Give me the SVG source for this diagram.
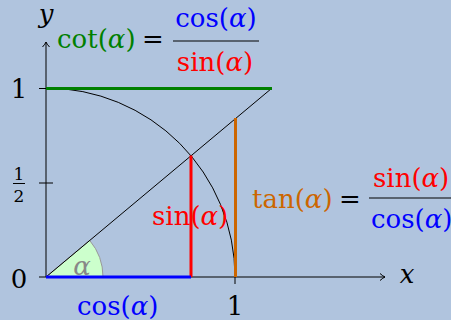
<svg xmlns="http://www.w3.org/2000/svg" width="451" height="320" viewBox="0 0 451 320">
<style>
text{font-family:"DejaVu Serif","Liberation Serif",serif;font-size:26px}
.i{font-style:italic}
.ax{stroke:#000;stroke-width:1;fill:none}
.g{fill:#008000}.b{fill:#0000ff}.r{fill:#ff0000}.o{fill:#cc6600}.k{fill:#000}
</style>
<defs>
<marker id="to" markerWidth="10" markerHeight="10" refX="7" refY="5" orient="auto" markerUnits="userSpaceOnUse">
<path d="M2,1.5 Q5,4.2 7,5 Q5,5.8 2,8.5" fill="none" stroke="#000" stroke-width="1"/>
</marker>
</defs>
<rect width="451" height="320" fill="#b0c4de"/>
<g id="wedge">
<path d="M46,277 L103,277 A57,57 0 0 0 89.7,240.4 Z" fill="#ccffcc" stroke="#999" stroke-width="1"/>
<text x="82" y="275" class="i" text-anchor="middle" fill="#888">α</text>
</g>
<g id="connectors">
<line class="ax" x1="46" y1="277" x2="385" y2="277" marker-end="url(#to)"/>
<line class="ax" x1="46" y1="277" x2="46" y2="42" marker-end="url(#to)"/>
<line class="ax" x1="39" y1="277" x2="46" y2="277"/>
<line class="ax" x1="39" y1="183" x2="53" y2="183"/>
<line class="ax" x1="39" y1="88.5" x2="46" y2="88.5"/>
<line class="ax" x1="235" y1="277" x2="235" y2="284"/>
<path class="ax" d="M46,88 A189,189 0 0 1 235,277"/>
<line class="ax" x1="46" y1="277" x2="271.5" y2="88.5"/>
</g>
<g id="sin-line"><line x1="191" y1="277" x2="191" y2="155.5" stroke="#ff0000" stroke-width="3"/></g>
<g id="cos-line"><line x1="46" y1="277" x2="191" y2="277" stroke="#0000ff" stroke-width="3"/></g>
<g id="tan-line"><line x1="235.5" y1="277" x2="235.5" y2="118" stroke="#cc6600" stroke-width="3"/></g>
<g id="cot-line"><line x1="46" y1="88.5" x2="272" y2="88.5" stroke="#008000" stroke-width="3"/></g>
<g id="axis-labels">
<text x="46" y="23" class="i k" text-anchor="middle">y</text>
<text x="407" y="283" class="i k" text-anchor="middle">x</text>
<text x="19" y="98" class="k" text-anchor="middle">1</text>
<text x="19" y="288" class="k" text-anchor="middle">0</text>
<text x="235" y="315" class="k" text-anchor="middle">1</text>
<text x="19" y="180" class="k" text-anchor="middle" style="font-size:17px">1</text>
<line x1="13" y1="183.5" x2="25" y2="183.5" stroke="#000" stroke-width="1"/>
<text x="19" y="202" class="k" text-anchor="middle" style="font-size:17px">2</text>
</g>
<g id="cos-label"><text x="77" y="315" class="b">cos(<tspan class="i">α</tspan>)</text></g>
<g id="sin-label"><text x="152" y="225" class="r">sin(<tspan class="i">α</tspan>)</text></g>
<g id="cot-label">
<text x="57" y="48" class="g">cot(<tspan class="i">α</tspan>)</text>
<text x="153" y="48" class="k" text-anchor="middle">=</text>
<text x="216" y="27" class="b" text-anchor="middle">cos(<tspan class="i">α</tspan>)</text>
<line x1="173" y1="41" x2="259" y2="41" stroke="#000" stroke-width="1.2"/>
<text x="215" y="71" class="r" text-anchor="middle">sin(<tspan class="i">α</tspan>)</text>
</g>
<g id="tan-label">
<text x="252" y="208" class="o">tan(<tspan class="i">α</tspan>)</text>
<text x="350" y="208" class="k" text-anchor="middle">=</text>
<text x="373" y="187" class="r">sin(<tspan class="i">α</tspan>)</text>
<line x1="369" y1="198" x2="460" y2="198" stroke="#000" stroke-width="1.2"/>
<text x="371" y="228" class="b">cos(<tspan class="i">α</tspan>)</text>
</g>
</svg>
